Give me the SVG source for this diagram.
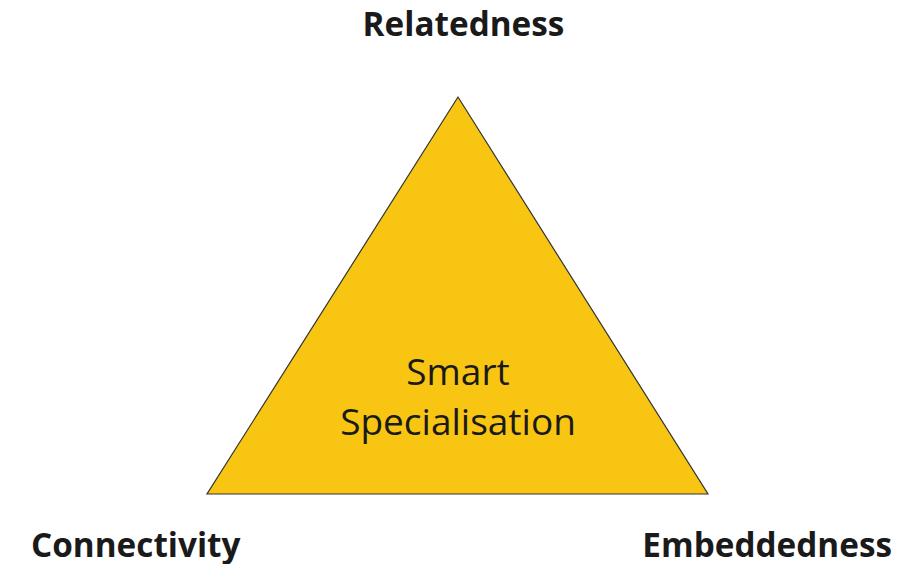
<svg xmlns="http://www.w3.org/2000/svg" width="917" height="564" viewBox="0 0 917 564">
<style>
.lbl{font-family:"Open Sans","Noto Sans",sans-serif;font-weight:700;font-size:33.3px;fill:#1a1a1a}
.in{font-family:"Open Sans","Noto Sans",sans-serif;font-size:37px;fill:#1a1a1a}
</style>
<rect width="917" height="564" fill="#ffffff"/>
<g id="triangle">
<polygon points="458,97 207,494 708,494" fill="#F8C512" stroke="#333333" stroke-width="1.2"/>
<text class="in" x="458" y="385" text-anchor="middle">Smart</text>
<text class="in" x="458" y="435" text-anchor="middle">Specialisation</text>
</g>
<g id="relatedness"><text class="lbl" x="463.5" y="36" text-anchor="middle">Relatedness</text></g>
<g id="connectivity"><text class="lbl" x="31" y="557">Connectivity</text></g>
<g id="embeddedness"><text class="lbl" x="892" y="557" text-anchor="end">Embeddedness</text></g>
<g id="connectors"></g>
</svg>
